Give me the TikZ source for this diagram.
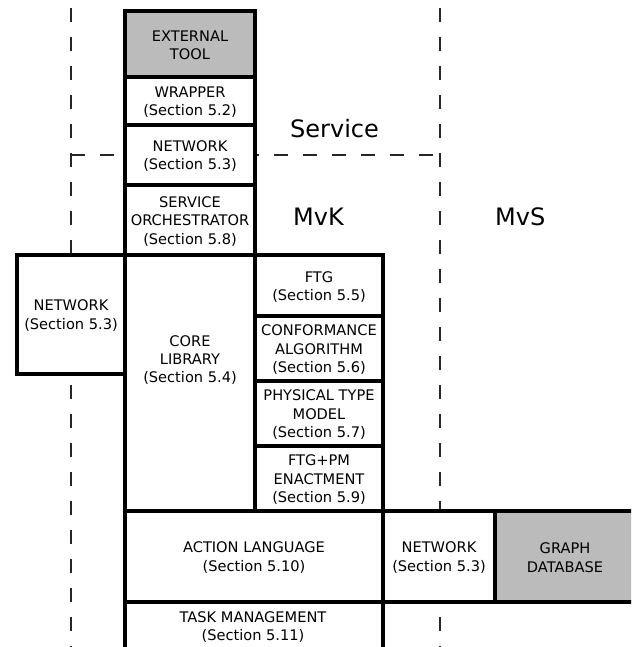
\documentclass[tikz,border=0pt]{standalone}
\usepackage{fontspec}
\setmainfont{DejaVu Sans}
\definecolor{boxgray}{RGB}{187,187,187}
\tikzset{
  boxfont/.style={font=\fontsize{14.6}{18.4}\selectfont},
  box/.style={draw=black, line width=4.5pt, fill=white, inner sep=0pt},
  graybox/.style={box, fill=boxgray},
  lbl/.style={inner sep=0pt, align=center, boxfont},
  sep/.style={draw=black!85, line width=1.8pt, dash pattern=on 14pt off 15pt},
  region/.style={font=\fontsize{24}{28}\selectfont, inner sep=0pt, anchor=base west}
}
\begin{document}
\begin{tikzpicture}[x=1pt,y=-1pt]
\useasboundingbox (0,0) rectangle (631,647);
\clip (0,0) rectangle (631,647);
% region separators
\coordinate (lt) at (71,8);
\coordinate (lb) at (71,660);
\coordinate (rt) at (440,8);
\coordinate (rb) at (440,660);
\coordinate (hl) at (71,155);
\coordinate (hr) at (440,155);
\draw[sep] (lt) -- (lb);
\draw[sep] (rt) -- (rb);
\draw[sep] (hl) -- (hr);
% region labels
\node[region] (service) at (290,138) {Service};
\node[region] (mvk) at (293,225) {MvK};
\node[region] (mvs) at (495,225) {MvS};
% boxes
\node[graybox, minimum width=130pt, minimum height=66pt] (ext) at (190,44) {};
\node[box, minimum width=130pt, minimum height=48pt] (wrap) at (190,101) {};
\node[box, minimum width=130pt, minimum height=60pt] (net1) at (190,155) {};
\node[box, minimum width=130pt, minimum height=70pt] (orch) at (190,220) {};
\node[box, minimum width=108pt, minimum height=119pt] (netl) at (71,314.5) {};
\node[box, minimum width=130pt, minimum height=256pt] (core) at (190,383) {};
\node[box, minimum width=128pt, minimum height=61pt] (ftg) at (319,285.5) {};
\node[box, minimum width=128pt, minimum height=65pt] (conf) at (319,348.5) {};
\node[box, minimum width=128pt, minimum height=65pt] (phys) at (319,413.5) {};
\node[box, minimum width=128pt, minimum height=65pt] (enact) at (319,478.5) {};
\node[box, minimum width=258pt, minimum height=91pt] (action) at (254,556.5) {};
\node[box, minimum width=112pt, minimum height=91pt] (net2) at (439,556.5) {};
\node[graybox, minimum width=145pt, minimum height=91pt] (graph) at (567.5,556.5) {};
\node[box, minimum width=258pt, minimum height=98pt] (task) at (254,651) {};
% texts
\node[lbl] (exttxt) at ([yshift=-1.2pt]ext.center) {EXTERNAL\\TOOL};
\node[lbl] (wraptxt) at ([yshift=-1.2pt]wrap.center) {WRAPPER\\(Section 5.2)};
\node[lbl] (net1txt) at ([yshift=-1.2pt]net1.center) {NETWORK\\(Section 5.3)};
\node[lbl] (orchtxt) at ([yshift=-1.2pt]orch.center) {SERVICE\\ORCHESTRATOR\\(Section 5.8)};
\node[lbl] (netltxt) at ([yshift=-1.2pt]netl.center) {NETWORK\\(Section 5.3)};
\node[lbl] (coretxt) at (190,360) {CORE\\LIBRARY\\(Section 5.4)};
\node[lbl] (ftgtxt) at ([yshift=-1.5pt]ftg.center) {FTG\\(Section 5.5)};
\node[lbl] (conftxt) at ([yshift=-1.2pt]conf.center) {CONFORMANCE\\ALGORITHM\\(Section 5.6)};
\node[lbl] (phystxt) at ([yshift=-1.2pt]phys.center) {PHYSICAL TYPE\\MODEL\\(Section 5.7)};
\node[lbl] (enacttxt) at ([yshift=-1.2pt]enact.center) {FTG+PM\\ENACTMENT\\(Section 5.9)};
\node[lbl] (actiontxt) at ([yshift=-1.2pt]action.center) {ACTION LANGUAGE\\(Section 5.10)};
\node[lbl] (net2txt) at ([yshift=-1.2pt]net2.center) {NETWORK\\(Section 5.3)};
\node[lbl] (graphtxt) at (565,557.5) {GRAPH\\DATABASE};
\node[lbl] (tasktxt) at (253,627) {TASK MANAGEMENT\\(Section 5.11)};
\end{tikzpicture}
\end{document}
